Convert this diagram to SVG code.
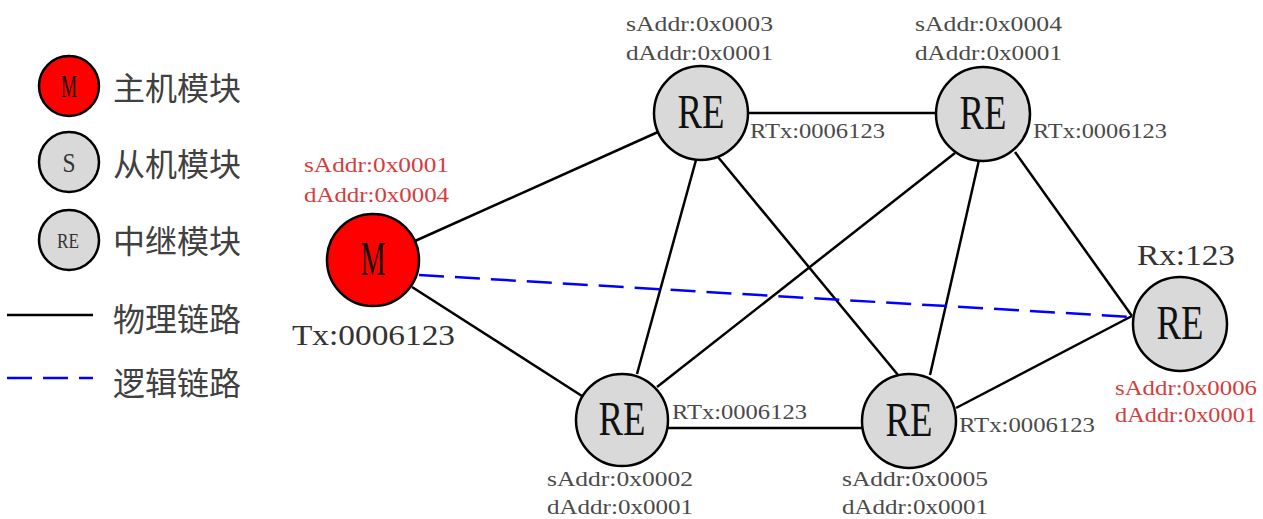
<svg xmlns="http://www.w3.org/2000/svg" width="1263" height="519" viewBox="0 0 1263 519">
<style>
.node{stroke:#000;stroke-width:2.5}
.re{fill:#d9d9d9}
.m{fill:#ff0000}
.lbl{font-family:"Liberation Serif",serif;font-size:22px;fill:#4a4a4a}
.red{fill:#d63c3c}
.big{font-family:"Liberation Serif",serif;font-size:30px;fill:#333}
.nt{font-family:"Liberation Serif",serif;font-size:48px;fill:#111}
.cn{font-family:"Noto Sans CJK SC",sans-serif;font-size:32px;fill:#404040}
.edge{stroke:#000;stroke-width:2.5;fill:none}
.logic{stroke:#0000ff;stroke-width:2.5;stroke-dasharray:25 11;fill:none}
</style>
<rect width="1263" height="519" fill="#fff"/>
<g id="legend">
<circle class="node m" cx="69" cy="86" r="30"/>
<text x="69" y="97" text-anchor="middle" font-family="Liberation Serif,serif" font-size="32" fill="#111" textLength="16" lengthAdjust="spacingAndGlyphs">M</text>
<text class="cn" x="113" y="100">主机模块</text>
<circle class="node re" cx="69" cy="162" r="30"/>
<text x="69" y="172" text-anchor="middle" font-family="Liberation Serif,serif" font-size="28" fill="#333" textLength="13" lengthAdjust="spacingAndGlyphs">S</text>
<text class="cn" x="113" y="176">从机模块</text>
<circle class="node re" cx="69" cy="240" r="30"/>
<text x="68" y="248" text-anchor="middle" font-family="Liberation Serif,serif" font-size="22" fill="#333" textLength="22" lengthAdjust="spacingAndGlyphs">RE</text>
<text class="cn" x="113" y="253">中继模块</text>
<line class="edge" x1="7" y1="315" x2="93" y2="315"/>
<text class="cn" x="113" y="331">物理链路</text>
<line class="logic" x1="7" y1="378" x2="93" y2="378"/>
<text class="cn" x="113" y="395">逻辑链路</text>
</g>
<g id="connectors">
<line class="edge" x1="415" y1="241" x2="658" y2="132"/>
<line class="edge" x1="412" y1="287" x2="582" y2="396"/>
<line class="edge" x1="748" y1="113" x2="936" y2="113"/>
<line class="edge" x1="696" y1="160" x2="637" y2="374"/>
<line class="edge" x1="718" y1="157" x2="898" y2="375"/>
<line class="edge" x1="955" y1="153" x2="657" y2="387"/>
<line class="edge" x1="979" y1="160" x2="930" y2="375"/>
<line class="edge" x1="1015" y1="152" x2="1132" y2="316"/>
<line class="edge" x1="668" y1="428" x2="862" y2="428"/>
<line class="edge" x1="956" y1="408" x2="1132" y2="316"/>
<line class="logic" x1="419" y1="275" x2="1132" y2="317"/>
</g>
<g id="node-M">
<circle class="node m" cx="373" cy="260" r="46"/>
<text class="nt" x="373" y="275" text-anchor="middle" font-size="50" textLength="25" lengthAdjust="spacingAndGlyphs">M</text>
<text class="lbl red" x="304" y="172" textLength="145" lengthAdjust="spacingAndGlyphs">sAddr:0x0001</text>
<text class="lbl red" x="304" y="202" textLength="145" lengthAdjust="spacingAndGlyphs">dAddr:0x0004</text>
<text class="big" x="292" y="345" textLength="163" lengthAdjust="spacingAndGlyphs">Tx:0006123</text>
</g>
<g id="node-RE3">
<circle class="node re" cx="701" cy="113" r="47"/>
<text class="nt" x="701" y="128" text-anchor="middle" textLength="47" lengthAdjust="spacingAndGlyphs">RE</text>
<text class="lbl" x="626" y="31" textLength="147" lengthAdjust="spacingAndGlyphs">sAddr:0x0003</text>
<text class="lbl" x="626" y="60" textLength="147" lengthAdjust="spacingAndGlyphs">dAddr:0x0001</text>
<text class="lbl" x="750" y="138" textLength="135" lengthAdjust="spacingAndGlyphs">RTx:0006123</text>
</g>
<g id="node-RE4">
<circle class="node re" cx="983" cy="114" r="47"/>
<text class="nt" x="983" y="129" text-anchor="middle" textLength="47" lengthAdjust="spacingAndGlyphs">RE</text>
<text class="lbl" x="915" y="31" textLength="147" lengthAdjust="spacingAndGlyphs">sAddr:0x0004</text>
<text class="lbl" x="915" y="60" textLength="147" lengthAdjust="spacingAndGlyphs">dAddr:0x0001</text>
<text class="lbl" x="1033" y="138" textLength="134" lengthAdjust="spacingAndGlyphs">RTx:0006123</text>
</g>
<g id="node-RE2">
<circle class="node re" cx="622" cy="420" r="46"/>
<text class="nt" x="622" y="435" text-anchor="middle" textLength="47" lengthAdjust="spacingAndGlyphs">RE</text>
<text class="lbl" x="672" y="419" textLength="135" lengthAdjust="spacingAndGlyphs">RTx:0006123</text>
<text class="lbl" x="547" y="486" textLength="146" lengthAdjust="spacingAndGlyphs">sAddr:0x0002</text>
<text class="lbl" x="547" y="514" textLength="146" lengthAdjust="spacingAndGlyphs">dAddr:0x0001</text>
</g>
<g id="node-RE5">
<circle class="node re" cx="909" cy="421" r="47"/>
<text class="nt" x="909" y="436" text-anchor="middle" textLength="47" lengthAdjust="spacingAndGlyphs">RE</text>
<text class="lbl" x="959" y="432" textLength="136" lengthAdjust="spacingAndGlyphs">RTx:0006123</text>
<text class="lbl" x="842" y="486" textLength="146" lengthAdjust="spacingAndGlyphs">sAddr:0x0005</text>
<text class="lbl" x="842" y="514" textLength="146" lengthAdjust="spacingAndGlyphs">dAddr:0x0001</text>
</g>
<g id="node-RE6">
<circle class="node re" cx="1180" cy="324" r="47"/>
<text class="nt" x="1180" y="339" text-anchor="middle" textLength="47" lengthAdjust="spacingAndGlyphs">RE</text>
<text class="big" x="1137" y="265" textLength="98" lengthAdjust="spacingAndGlyphs">Rx:123</text>
<text class="lbl red" x="1115" y="395" textLength="142" lengthAdjust="spacingAndGlyphs">sAddr:0x0006</text>
<text class="lbl red" x="1115" y="422" textLength="142" lengthAdjust="spacingAndGlyphs">dAddr:0x0001</text>
</g>
</svg>
